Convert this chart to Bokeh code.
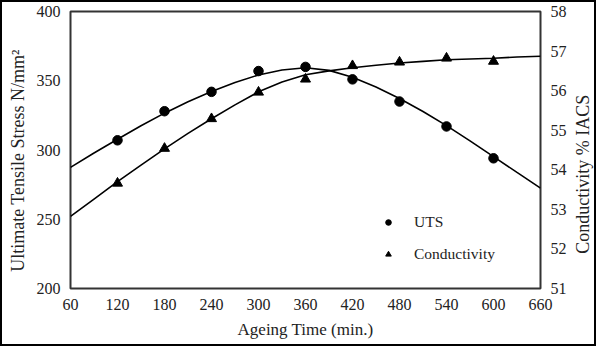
import math
from bokeh.plotting import figure
from bokeh.models import Range1d, LinearAxis, Legend, LegendItem, FixedTicker, Label
from bokeh.embed import file_html
from bokeh.resources import INLINE

# Ageing time (min) for the measured points
time_pts = [120, 180, 240, 300, 360, 420, 480, 540, 600]
uts_pts = [307, 328, 342, 357, 360, 351, 335, 317, 294]
cond_pts = [53.66, 54.54, 55.29, 55.96, 56.29, 56.63, 56.72, 56.82, 56.74]

# Fitted trend curves
time_curve = [60, 90, 120, 150, 180, 210, 240, 270, 300, 330, 360, 390, 420,
              450, 480, 510, 540, 570, 600, 630, 660]
uts_curve = [287.5, 297.8, 307.8, 317.5, 326.6, 334.8, 342.2, 348.8, 354.2, 357.8,
             359.4, 357.5, 352.5, 345.5, 337.2, 327.8, 317.6, 306.6, 295.2, 283.8, 272.5]
cond_curve = [52.82, 53.26, 53.70, 54.12, 54.53, 54.92, 55.29, 55.64, 55.97, 56.22,
              56.40, 56.50, 56.58, 56.64, 56.70, 56.74, 56.78, 56.80, 56.82, 56.85, 56.87]

x_ticks = [60, 120, 180, 240, 300, 360, 420, 480, 540, 600, 660]
uts_ticks = [200, 250, 300, 350, 400]
cond_ticks = [51, 52, 53, 54, 55, 56, 57, 58]

FONT = "Liberation Serif"
TXT = "#222222"

p = figure(width=596, height=346, output_backend="svg", toolbar_location=None,
           x_range=Range1d(60, 660), y_range=Range1d(200, 400),
           min_border_left=68, min_border_right=58, min_border_top=9,
           min_border_bottom=60)
p.styles = {"border": "2px solid black", "box-sizing": "border-box"}
p.extra_y_ranges = {"cond": Range1d(51, 58)}
p.grid.visible = False
p.outline_line_color = "#333333"
p.outline_line_width = 2
p.background_fill_color = "white"
p.border_fill_color = "white"

# curves
p.line(time_curve, uts_curve, line_color="black", line_width=1.6)
p.line(time_curve, cond_curve, line_color="black", line_width=1.6, y_range_name="cond")
r_uts = p.scatter(time_pts, uts_pts, marker="circle", size=9.5, color="black")
r_cond = p.scatter(time_pts, cond_pts, marker="triangle", size=10, color="black",
                   y_range_name="cond")

def style_axis(ax, standoff):
    ax.axis_line_color = None
    ax.major_tick_line_color = None
    ax.minor_tick_line_color = None
    ax.major_tick_out = 0
    ax.major_tick_in = 0
    ax.minor_tick_out = 0
    ax.minor_tick_in = 0
    ax.major_label_text_font = FONT
    ax.major_label_text_font_size = "16px"
    ax.major_label_text_color = TXT
    ax.major_label_standoff = standoff
    ax.axis_label_text_font = FONT
    ax.axis_label_text_font_style = "normal"
    ax.axis_label_text_color = TXT

xa = p.xaxis[0]
xa.ticker = FixedTicker(ticks=x_ticks)
xa.axis_label = "Ageing Time (min.)"
style_axis(xa, 10)
xa.axis_label_text_font_size = "17px"
xa.axis_label_standoff = 7

ya = p.yaxis[0]
ya.ticker = FixedTicker(ticks=uts_ticks)
style_axis(ya, 10)

ra = LinearAxis(y_range_name="cond", ticker=FixedTicker(ticks=cond_ticks))
style_axis(ra, 10)
p.add_layout(ra, "right")

# axis titles, both reading bottom to top as in the reference
left_title = Label(x=60, y=294, x_offset=-53, text="Ultimate Tensile Stress  N/mm²",
                   angle=math.pi / 2, text_align="center", text_baseline="middle",
                   text_font=FONT, text_font_size="18px", text_color=TXT)
p.add_layout(left_title, "left")

right_title = Label(x=660, y=54.0, y_range_name="cond", x_offset=42,
                    text="Conductivity  %  IACS", angle=math.pi / 2,
                    text_align="center", text_baseline="middle",
                    text_font=FONT, text_font_size="18px", text_color=TXT)
p.add_layout(right_title, "right")

legend = Legend(items=[LegendItem(label="UTS", renderers=[r_uts]),
                       LegendItem(label="Conductivity", renderers=[r_cond])],
                location=(311, 24), orientation="vertical")
legend.label_text_font = FONT
legend.label_text_font_size = "15.5px"
legend.label_text_color = TXT
legend.border_line_color = None
legend.background_fill_alpha = 0
legend.padding = 0
legend.margin = 0
legend.spacing = 12
legend.glyph_width = 14
legend.glyph_height = 20
legend.label_height = 20
legend.label_standoff = 19
p.add_layout(legend, "center")

open("out.html", "w").write(file_html(p, INLINE))
